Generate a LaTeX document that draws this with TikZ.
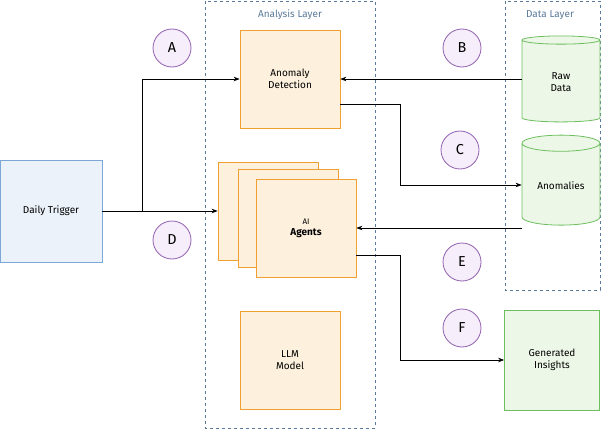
\documentclass[tikz,border=0pt]{standalone}
\usepackage{fontspec}
\setmainfont{Fira Sans}
\usetikzlibrary{shapes.geometric,arrows.meta}
\definecolor{layerblue}{HTML}{5B7A99}
\definecolor{trigblue}{HTML}{7DA7D9}
\definecolor{orangeline}{HTML}{F0A030}
\definecolor{orangefill}{HTML}{FDF0DC}
\definecolor{greenline}{HTML}{6DBF5E}
\definecolor{greenfill}{HTML}{EDF7E8}
\definecolor{purpleline}{HTML}{9060B0}
\definecolor{purplefill}{HTML}{F6EEFA}
\tikzset{
  layer/.style={draw=layerblue, dashed, thick},
  proc/.style={draw=orangeline, fill=orangefill, thick, minimum width=100pt, minimum height=98pt, align=center, font=\normalsize},
  store/.style={cylinder, shape border rotate=90, aspect=0.3, draw=greenline, fill=greenfill, thick, minimum width=78pt, align=center, font=\normalsize},
  marker/.style={circle, draw=purpleline, fill=purplefill, thick, minimum size=38pt, font=\Large},
  conn/.style={-{Stealth[length=6pt]}, semithick}
}
\begin{document}
\begin{tikzpicture}[x=1pt, y=-1pt]
\useasboundingbox (0,0) rectangle (606,431);

% layers
\draw[layer] (205,1) rectangle (375,428);
\node[text=layerblue] (analysis) at (290,15) {Analysis Layer};
\draw[layer] (505,1) rectangle (600,290);
\node[text=layerblue] (datalayer) at (550,15) {Data Layer};

% nodes
\node[draw=trigblue, fill=trigblue!15, thick, minimum width=102pt, minimum height=102pt] (trigger) at (51,211) {Daily Trigger};
\node[proc] (detect) at (290,79) {Anomaly\\Detection};
\node[proc] (agentA) at (268,211) {};
\node[proc] (agentB) at (288,218) {};
\node[proc] (agents) at (306,228) {\footnotesize AI\\[-1pt]\textbf{Agents}};
\node[proc] (llm) at (290,360) {LLM\\Model};
\node[store, minimum height=86pt] (raw) at (561,82) {Raw\\Data};
\node[store, minimum height=90pt] (anom) at (561,186) {Anomalies};
\node[draw=greenline, fill=greenfill, thick, minimum width=95pt, minimum height=100pt, align=center] (insights) at (552,360) {Generated\\Insights};

% step markers
\node[marker] (A) at (172,48) {A};
\node[marker] (B) at (462,48) {B};
\node[marker] (C) at (460,150) {C};
\node[marker] (D) at (172,240) {D};
\node[marker] (E) at (462,262) {E};
\node[marker] (F) at (462,328) {F};

% connectors
\draw[conn] (trigger.east) -- (142,211) |- (detect.west);
\draw[conn] (trigger.east) -- (agentA.west);
\draw[conn] (raw.west |- detect.east) -- (detect.east);
\draw[conn] ([yshift=-25pt]detect.east) -| (400,185) -- (anom.west |- 0,185);
\draw[conn] (anom.west |- 0,228) -- (agents.east |- 0,228);
\draw[conn] (agents.east |- 0,255) -| (400,360) -- (insights.west);
\end{tikzpicture}
\end{document}
